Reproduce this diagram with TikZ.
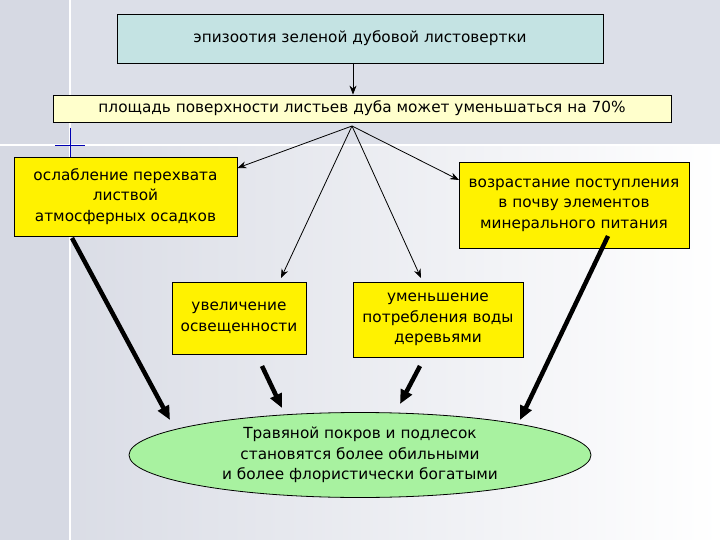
\documentclass[tikz,border=0pt]{standalone}
\usepackage{fontspec}
\setmainfont{DejaVu Sans}
\usetikzlibrary{arrows.meta,shapes.geometric}
\definecolor{topbg}{HTML}{DCDFE8}
\definecolor{leftbg}{HTML}{D6D9E3}
\definecolor{tealbox}{HTML}{C4E3E3}
\definecolor{lightyel}{HTML}{FFFFCC}
\definecolor{grn}{HTML}{A8F2A0}
\begin{document}
\begin{tikzpicture}[x=1pt,y=-1pt,
  box/.style={draw=black,line width=0.8pt,align=center,font=\fontsize{15.3}{20.5}\selectfont,inner sep=2pt},
  thin/.style={-{Stealth[length=9pt,width=7pt]},line width=0.8pt},
  thick/.style={-{Triangle[length=14pt,width=12pt]},line width=4.5pt}]
\useasboundingbox (0,0) rectangle (720,540);
\shade[left color=leftbg,right color=white] (0,0) rectangle (720,540);
\fill[topbg] (0,0) rectangle (720,145);
\fill[leftbg] (0,0) rectangle (70,540);
\draw[white,line width=1.5pt] (70,0) -- (70,540);
\draw[white,line width=1.5pt] (0,145) -- (720,145);
\draw[blue!70!black,line width=0.8pt] (55,145) -- (85,145) (70,128) -- (70,160);
\node[box,fill=tealbox,minimum width=486pt,minimum height=49pt] (a) at (360,38.5) {эпизоотия зеленой дубовой листовертки};
\node[box,fill=lightyel,minimum width=618pt,minimum height=27pt,inner sep=0pt] (b) at (362,108.5) {площадь поверхности листьев дуба может уменьшаться на 70\%};
\node[box,fill=yellow,minimum width=223pt,minimum height=79pt] (c) at (125.5,196.5) {ослабление перехвата\\листвой\\атмосферных осадков};
\node[box,fill=yellow,minimum width=230pt,minimum height=86pt] (d) at (574,205) {возрастание поступления\\в почву элементов\\минерального питания};
\node[box,fill=yellow,minimum width=134pt,minimum height=72pt] (e) at (239,318) {увеличение\\освещенности};
\node[box,fill=yellow,minimum width=170pt,minimum height=75pt] (f) at (438,319.5) {уменьшение\\потребления воды\\деревьями};
\node[ellipse,draw=black,line width=0.8pt,fill=grn,minimum width=462pt,minimum height=85pt,align=center,font=\fontsize{15.3}{20.5}\selectfont,inner sep=0pt] (g) at (360,455) {Травяной покров и подлесок\\становятся более обильными\\и более флористически богатыми};
\coordinate (s) at (352,126);
\draw[thin] (353,63) -- (b.north -| 353,0);
\draw[thin] (s) -- (c.north east |- 0,168) ;
\draw[thin] (s) -- (281,278);
\draw[thin] (s) -- (421,278);
\draw[thin] (s) -- (459,180);
\draw[thick] (72,238) -- (170,420);
\draw[thick] (262,366) -- (282,408);
\draw[thick] (420,366) -- (400,404);
\draw[thick] (608,236) -- (520,420);
\end{tikzpicture}
\end{document}
